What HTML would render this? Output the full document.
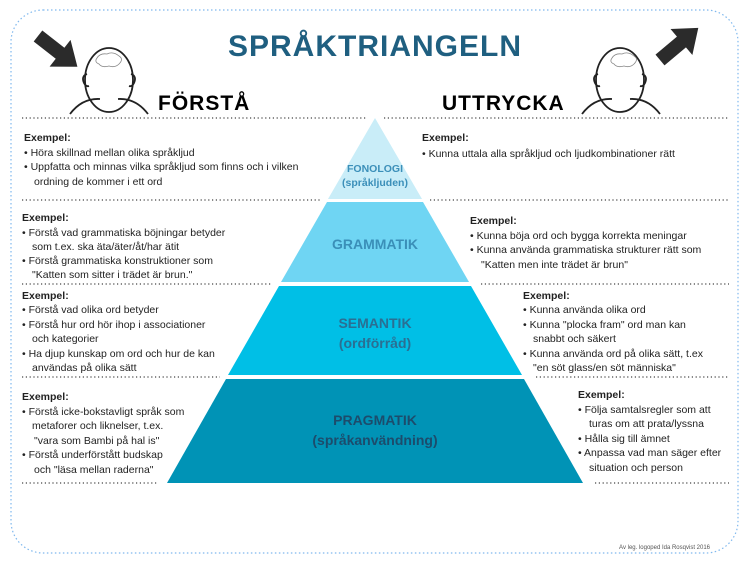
<!DOCTYPE html>
<html><head><meta charset="utf-8"><style>
html,body{margin:0;padding:0;background:#fff;}
svg{display:block;}
text{font-family:"Liberation Sans",sans-serif;}
.t{font-size:10.5px;fill:#222;}
.b{font-weight:bold;}
</style></head><body>
<svg width="750" height="563" viewBox="0 0 750 563">
<rect x="11" y="10" width="727" height="543" rx="32" fill="none" stroke="#7fb8ee" stroke-width="1.2" stroke-dasharray="1.5 2.5"/>
<text x="375" y="56" text-anchor="middle" font-size="30" font-weight="bold" fill="#1f5f80" letter-spacing="1">SPRÅKTRIANGELN</text>
<!-- arrows -->
<polygon points="0,-7 28,-7 28,-17 50,0 28,17 28,7 0,7" fill="#2b2b2b" transform="translate(38,36) rotate(38)"/>
<polygon points="0,-7 28,-7 28,-17 50,0 28,17 28,7 0,7" fill="#2b2b2b" transform="translate(660,60) rotate(-40)"/>
<!-- left head -->
<g fill="none" stroke="#222" stroke-width="1.8">
<ellipse cx="109" cy="80" rx="24" ry="32"/>
<path d="M87,74 q-6,2 -3,9 q2,4 5,3"/><path d="M131,74 q6,2 3,9 q-2,4 -5,3"/>
<path d="M70,114 q12,-16 30,-15"/><path d="M148,114 q-12,-16 -30,-15"/>
</g>
<path d="M97,58 q3,-5 10,-4 q6,-3 12,2 q5,3 0,8 q-4,4 -10,2 q-7,2 -10,-2 q-5,-2 -2,-6z" fill="none" stroke="#888" stroke-width="0.8"/>
<!-- right head -->
<g fill="none" stroke="#222" stroke-width="1.8">
<ellipse cx="620" cy="80" rx="24" ry="32"/>
<path d="M598,74 q-6,2 -3,9 q2,4 5,3"/><path d="M642,74 q6,2 3,9 q-2,4 -5,3"/>
<path d="M582,114 q12,-16 30,-15"/><path d="M660,114 q-12,-16 -30,-15"/>
</g>
<path d="M612,58 q3,-5 10,-4 q6,-3 12,2 q5,3 0,8 q-4,4 -10,2 q-7,2 -10,-2 q-5,-2 -2,-6z" fill="none" stroke="#888" stroke-width="0.8"/>
<text x="158" y="110" font-size="21" font-weight="bold" fill="#000" letter-spacing="1">FÖRSTÅ</text>
<text x="442" y="110" font-size="21" font-weight="bold" fill="#000" letter-spacing="1">UTTRYCKA</text>
<!-- pyramid -->
<polygon points="375,118 328,199 422,199" fill="#c9edf8"/>
<polygon points="327,202 423,202 469,282 281,282" fill="#6fd5f3"/>
<polygon points="279,286 471,286 522,375 228,375" fill="#00bfe6"/>
<polygon points="226,379 524,379 583,483 167,483" fill="#0093b6"/>
<text x="375" y="172" text-anchor="middle" font-size="10.5" font-weight="bold" fill="#3b8fb9">FONOLOGI</text>
<text x="375" y="186" text-anchor="middle" font-size="10.5" font-weight="bold" fill="#3b8fb9">(språkljuden)</text>
<text x="375" y="249" text-anchor="middle" font-size="14" font-weight="bold" fill="#3a8fb8">GRAMMATIK</text>
<text x="375" y="328" text-anchor="middle" font-size="14" font-weight="bold" fill="#2a6f93">SEMANTIK</text>
<text x="375" y="348" text-anchor="middle" font-size="14" font-weight="bold" fill="#2a6f93">(ordförråd)</text>
<text x="375" y="425" text-anchor="middle" font-size="14" font-weight="bold" fill="#1c4c6c">PRAGMATIK</text>
<text x="375" y="445" text-anchor="middle" font-size="14" font-weight="bold" fill="#1c4c6c">(språkanvändning)</text>
<!-- dotted lines -->
<g stroke="#444" stroke-width="1.2" stroke-dasharray="1.2 2.6">
<line x1="22" y1="118" x2="366" y2="118"/><line x1="384" y1="118" x2="729" y2="118"/>
<line x1="22" y1="200" x2="322" y2="200"/><line x1="430" y1="200" x2="729" y2="200"/>
<line x1="22" y1="284" x2="272" y2="284"/><line x1="481" y1="284" x2="729" y2="284"/>
<line x1="22" y1="377" x2="220" y2="377"/><line x1="536" y1="377" x2="729" y2="377"/>
<line x1="22" y1="483" x2="158" y2="483"/><line x1="595" y1="483" x2="729" y2="483"/>
</g>
<!-- left texts -->
<g class="t">
<text x="24" y="141" class="b">Exempel:</text>
<text x="24" y="156">•  Höra skillnad mellan olika språkljud</text>
<text x="24" y="170">•  Uppfatta och minnas vilka språkljud som finns och i vilken</text>
<text x="34" y="185">ordning de kommer i ett ord</text>
<text x="22" y="221" class="b">Exempel:</text>
<text x="22" y="236">•  Förstå vad grammatiska böjningar betyder</text>
<text x="32" y="250">som t.ex. ska äta/äter/åt/har ätit</text>
<text x="22" y="264">•  Förstå grammatiska konstruktioner som</text>
<text x="32" y="278">"Katten som sitter i trädet är brun."</text>
<text x="22" y="299" class="b">Exempel:</text>
<text x="22" y="313">•  Förstå vad olika ord betyder</text>
<text x="22" y="328">•  Förstå hur ord hör ihop i associationer</text>
<text x="32" y="342">och kategorier</text>
<text x="22" y="357">•  Ha djup kunskap om ord och hur de kan</text>
<text x="32" y="371">användas på olika sätt</text>
<text x="22" y="400" class="b">Exempel:</text>
<text x="22" y="415">•  Förstå icke-bokstavligt språk som</text>
<text x="32" y="429">metaforer och liknelser, t.ex.</text>
<text x="34" y="444">"vara som Bambi på hal is"</text>
<text x="22" y="458">•  Förstå underförstått budskap</text>
<text x="34" y="473">och "läsa mellan raderna"</text>
</g>
<!-- right texts -->
<g class="t">
<text x="422" y="141" class="b">Exempel:</text>
<text x="422" y="157">•  Kunna uttala alla språkljud och ljudkombinationer rätt</text>
<text x="470" y="224" class="b">Exempel:</text>
<text x="470" y="239">•  Kunna böja ord och bygga korrekta meningar</text>
<text x="470" y="253">•  Kunna använda grammatiska strukturer rätt som</text>
<text x="481" y="268">"Katten men inte trädet är brun"</text>
<text x="523" y="299" class="b">Exempel:</text>
<text x="523" y="313">•  Kunna använda olika ord</text>
<text x="523" y="328">•  Kunna "plocka fram" ord man kan</text>
<text x="533" y="342">snabbt och säkert</text>
<text x="523" y="357">•  Kunna använda ord på olika sätt, t.ex</text>
<text x="533" y="371">"en söt glass/en söt människa"</text>
<text x="578" y="398" class="b">Exempel:</text>
<text x="578" y="413">•  Följa samtalsregler som att</text>
<text x="589" y="427">turas om att prata/lyssna</text>
<text x="578" y="442">•  Hålla sig till ämnet</text>
<text x="578" y="456">•  Anpassa vad man säger efter</text>
<text x="589" y="471">situation och person</text>
</g>
<text x="710" y="549" text-anchor="end" font-size="6" fill="#555">Av leg. logoped Ida Rosqvist 2016</text>
</svg>
</body></html>
